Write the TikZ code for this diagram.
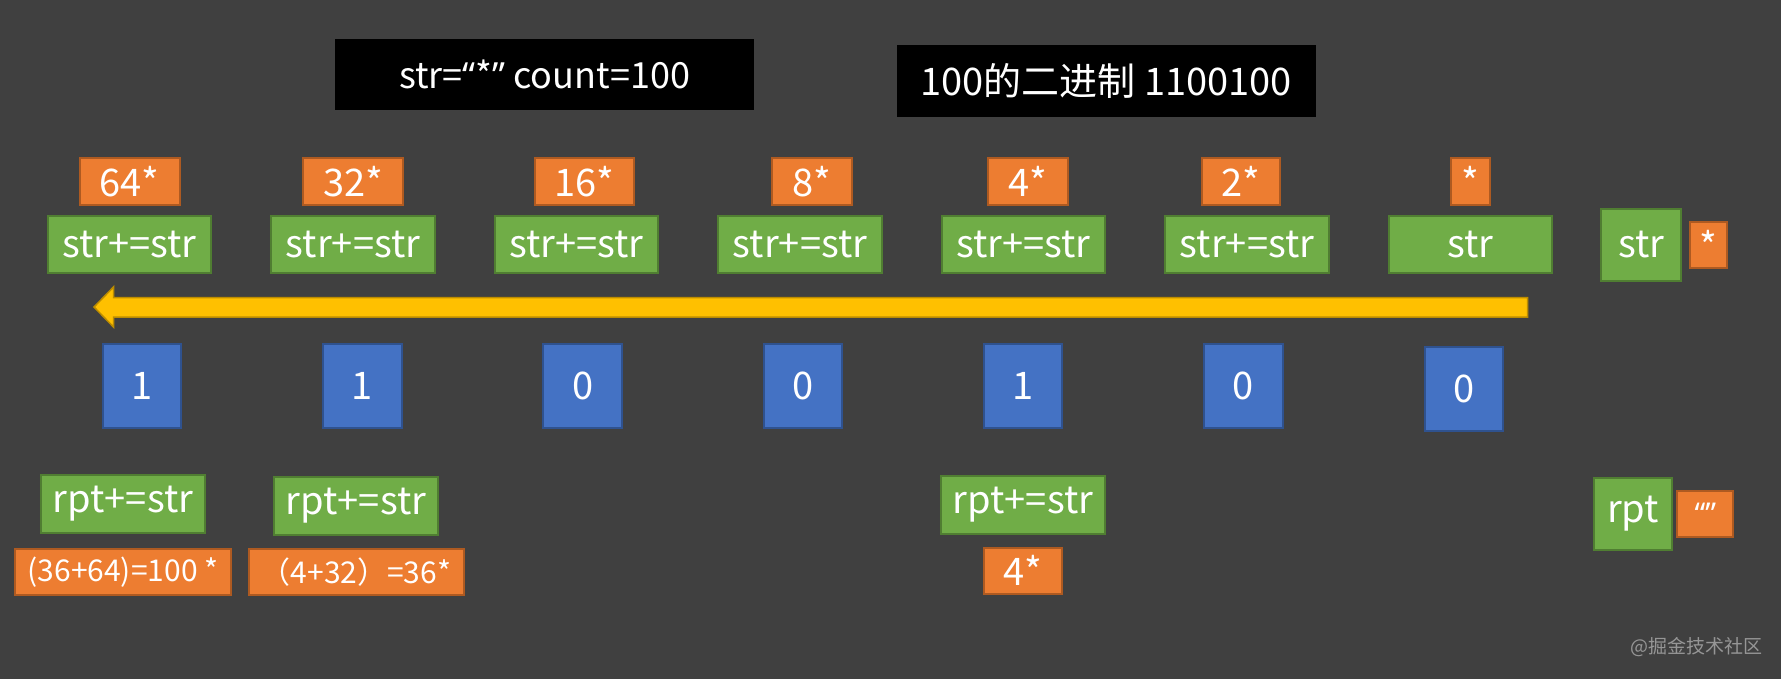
\documentclass[tikz,border=0pt]{standalone}
\usepackage{fontspec}
\setmainfont{Noto Sans CJK SC}
\newfontfamily\quotefont{Noto Sans}
\usepackage{tikz}
\usetikzlibrary{positioning}
\definecolor{bgdark}{RGB}{64, 64, 64}
\definecolor{boxorange}{RGB}{237, 125, 49}
\definecolor{edgeorange}{RGB}{174, 90, 33}
\definecolor{boxgreen}{RGB}{112, 173, 71}
\definecolor{edgegreen}{RGB}{80, 126, 50}
\definecolor{boxblue}{RGB}{68, 114, 196}
\definecolor{edgeblue}{RGB}{47, 82, 143}
\definecolor{arrowgold}{RGB}{255, 192, 0}
\definecolor{edgegold}{RGB}{188, 140, 0}
\definecolor{markgray}{RGB}{150, 150, 150}

\begin{document}
\begin{tikzpicture}[x=0.5pt, y=-0.5pt,
    tile/.style={rectangle, inner sep=0pt, text=white, line width=1pt,
                 font=\fontsize{19}{22}\selectfont},
    orangebox/.style={tile, draw=edgeorange, fill=boxorange, minimum height=23.5pt},
    greenbox/.style={tile, draw=edgegreen, fill=boxgreen,
                     minimum width=81.75pt, minimum height=28.5pt},
    bitbox/.style={tile, draw=edgeblue, fill=boxblue,
                   minimum width=39.25pt, minimum height=42pt},
    titlebox/.style={tile, fill=black, minimum width=209.5pt, minimum height=35.75pt},
    smalltext/.style={font=\fontsize{15}{18}\selectfont},
]

\fill[bgdark] (0,0) rectangle (1781,679);
\useasboundingbox (0,0) rectangle (1781,679);

\node[titlebox, font=\fontsize{18}{21}\selectfont] (given) at (544.5,74.5)
    {str={\quotefont“}*{\quotefont”} count=100};
\node[titlebox, minimum height=36pt] (binary) at (1106,81) {100的二进制 1100100};

% doubling row
\node[greenbox] (g64) at (129.5,244.5) {str+=str};
\node[greenbox, right=29pt of g64] (g32) {str+=str};
\node[greenbox, right=29pt of g32] (g16) {str+=str};
\node[greenbox, right=29pt of g16] (g8) {str+=str};
\node[greenbox, right=29pt of g8] (g4) {str+=str};
\node[greenbox, right=29pt of g4] (g2) {str+=str};
\node[greenbox, right=29pt of g2] (g1) {str};

\node[orangebox, minimum width=50pt, above=4.5pt of g64] (o64) {64*};
\node[orangebox, minimum width=50pt, above=4.5pt of g32] (o32) {32*};
\node[orangebox, minimum width=49.5pt, above=4.5pt of g16, xshift=4pt] (o16) {16*};
\node[orangebox, minimum width=40pt, above=4.5pt of g8, xshift=6pt] (o8) {8*};
\node[orangebox, minimum width=40pt, above=4.5pt of g4, xshift=2pt] (o4) {4*};
\node[orangebox, minimum width=39pt, above=4.5pt of g2, xshift=-3pt] (o2) {2*};
\node[orangebox, minimum width=19.5pt, above=4.5pt of g1] (o1) {*};

\node[greenbox, minimum width=39.75pt, minimum height=35.75pt] (strvar) at (1641,245) {str};
\node[orangebox, minimum width=18.75pt, minimum height=22.75pt, right=3.5pt of strvar] (strval) {*};

\filldraw[fill=arrowgold, draw=edgegold, line width=0.75pt]
    (1527.5,297.5) -- (113.5,297.5) -- (113.5,287) -- (94,307)
    -- (113.5,327) -- (113.5,317) -- (1527.5,317) -- cycle;

% bits of 100
\node[bitbox] (b6) at (142,386) {1};
\node[bitbox, right=69.9pt of b6] (b5) {1};
\node[bitbox, right=69.9pt of b5] (b4) {0};
\node[bitbox, right=69.9pt of b4] (b3) {0};
\node[bitbox, right=69.9pt of b3] (b2) {1};
\node[bitbox, right=69.9pt of b2] (b1) {0};
\node[bitbox, right=69.9pt of b1, yshift=-1.25pt] (b0) {0};

% result row
\node[greenbox, minimum width=82pt, minimum height=29pt] (r64) at (123,504) {rpt+=str};
\node[orangebox, smalltext, minimum width=108pt, minimum height=22.75pt,
      below=7pt of r64] (s100) {(36+64)=100 *};
\node[greenbox, minimum width=82pt, minimum height=29pt] (r32) at (356,506) {rpt+=str};
\node[orangebox, smalltext, minimum width=107.5pt, minimum height=22.75pt,
      below=6pt of r32] (s36) {（4+32）=36*};
\node[greenbox, minimum width=82pt, minimum height=29pt] (r4) at (1023,504.5) {rpt+=str};
\node[orangebox, minimum width=39.25pt, minimum height=23pt, below=6pt of r4] (s4) {4*};

\node[greenbox, minimum width=39.25pt, minimum height=36pt] (rptvar) at (1633,514) {rpt};
\node[orangebox, smalltext, minimum width=28pt, minimum height=22.75pt,
      right=1.5pt of rptvar] (rptval) {\quotefont “”};

\node[text=markgray, font=\fontsize{9.5}{11}\selectfont] (mark) at (1696,647) {@掘金技术社区};

\end{tikzpicture}
\end{document}
